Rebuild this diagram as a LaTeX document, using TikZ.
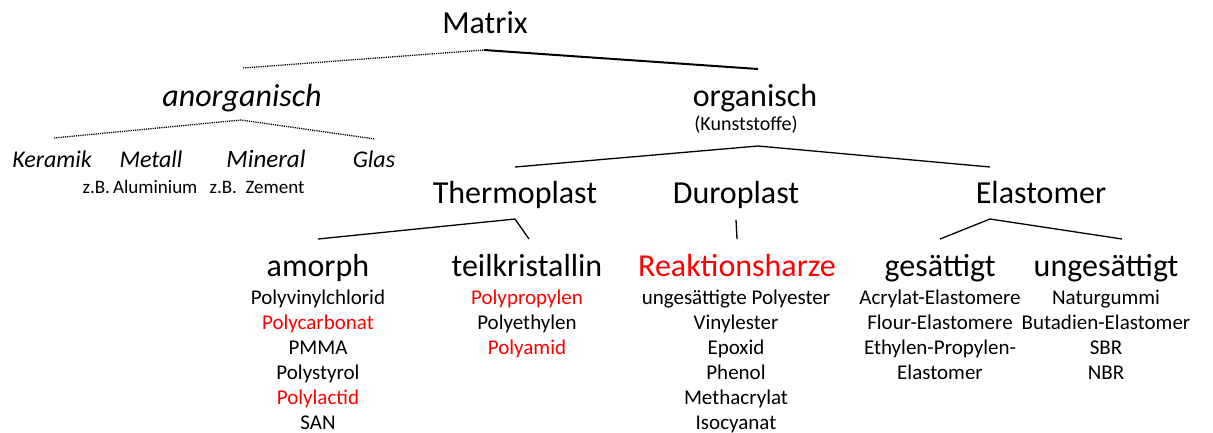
\documentclass[tikz,border=0pt]{standalone}
\usepackage{fontspec}
\setmainfont{Carlito}
\begin{document}
\begin{tikzpicture}[x=1pt,y=-1pt,
  big/.style={font=\fontsize{32}{38}\selectfont, inner sep=0pt, anchor=base},
  bigit/.style={font=\fontsize{32}{38}\selectfont\itshape, inner sep=0pt, anchor=base},
  mid/.style={font=\fontsize{24}{28}\selectfont\itshape, inner sep=0pt, anchor=base},
  small/.style={font=\fontsize{19}{22}\selectfont, inner sep=0pt, anchor=base},
  list/.style={font=\fontsize{21}{25}\selectfont, inner sep=0pt, anchor=base, align=center},
  dotline/.style={line width=1.3pt, dash pattern=on 1.2pt off 1pt},
  solidline/.style={line width=1.3pt},
  thickline/.style={line width=2pt},
]
\useasboundingbox (0,0) rectangle (1213,432);
% level 0
\node[big] (matrix) at (485,33) {Matrix};
% level 1
\node[bigit] (anorg) at (242,106) {anorganisch};
\node[big] (org) at (755,106) {organisch};
\node[small, font=\fontsize{20}{24}\selectfont] (kunst) at (746,130) {(Kunststoffe)};
% anorganisch children
\node[mid] (keramik) at (52,167) {Keramik};
\node[mid] (metall) at (151,167) {Metall};
\node[mid, font=\fontsize{25}{28}\selectfont\itshape] (mineral) at (266,167) {Mineral};
\node[mid] (glas) at (374,167) {Glas};
\node[small] (zalu) at (140,193) {z.B.\,Aluminium};
\node[small] (zzem) at (257,193) {z.B.\ \ Zement};
% organisch children
\node[big] (thermo) at (515,203) {Thermoplast};
\node[big] (duro) at (736,203) {Duroplast};
\node[big] (elast) at (1041,203) {Elastomer};
% level 3
\node[big] (amorph) at (318,276) {amorph};
\node[big] (teil) at (527,276) {teilkristallin};
\node[big, text=red] (reakt) at (737,276) {Reaktionsharze};
\node[big] (gesatt) at (940,276) {gesättigt};
\node[big] (unges) at (1106,276) {ungesättigt};
% lists (anchor base = baseline of the last line)
\node[list] (lamorph) at (318,429) {Polyvinylchlorid\\ \textcolor{red}{Polycarbonat}\\ PMMA\\ Polystyrol\\ \textcolor{red}{Polylactid}\\ SAN};
\node[list] (lteil) at (527,354) {\textcolor{red}{Polypropylen}\\ Polyethylen\\ \textcolor{red}{Polyamid}};
\node[list] (lreakt) at (736,429) {ungesättigte Polyester\\ Vinylester\\ Epoxid\\ Phenol\\ Methacrylat\\ Isocyanat};
\node[list] (lgesatt) at (940,379) {Acrylat-Elastomere\\ Flour-Elastomere\\ Ethylen-Propylen-\\ Elastomer};
\node[list] (lunges) at (1106,379) {Naturgummi\\ Butadien-Elastomer\\ SBR\\ NBR};
% connector points
\coordinate (mA) at (484,50);
\coordinate (mL) at (243,68);
\coordinate (mR) at (758,69);
\coordinate (aA) at (241,120);
\coordinate (aL) at (54,138);
\coordinate (aR) at (375,139);
\coordinate (oA) at (758,146);
\coordinate (oL) at (515,167);
\coordinate (oR) at (990,167);
\coordinate (tA) at (515,219);
\coordinate (tL) at (318,239);
\coordinate (tR) at (529,239);
\coordinate (dA) at (736,220);
\coordinate (dB) at (737,239);
\coordinate (eA) at (990,219);
\coordinate (eL) at (940,239);
\coordinate (eR) at (1122,239);
% connectors
\draw[dotline] (mL) -- (mA);
\draw[thickline] (mA) -- (mR);
\draw[dotline] (aL) -- (aA) -- (aR);
\draw[solidline] (oL) -- (oA) -- (oR);
\draw[solidline] (tL) -- (tA) -- (tR);
\draw[solidline] (dA) -- (dB);
\draw[solidline] (eL) -- (eA) -- (eR);
\end{tikzpicture}
\end{document}
